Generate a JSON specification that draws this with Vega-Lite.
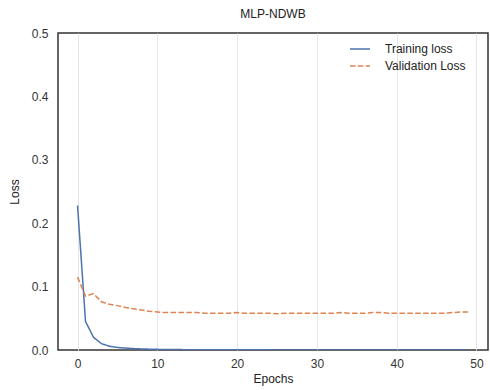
{
  "$schema": "https://vega.github.io/schema/vega-lite/v6.json",
  "autosize": {"type": "none"},
  "padding": {"left": 58, "top": 33, "right": 2, "bottom": 40},
  "width": 430,
  "height": 317,
  "title": {"text": "MLP-NDWB", "fontSize": 12, "fontWeight": "normal", "font": "Liberation Sans", "color": "#222", "offset": 6},
  "config": {
    "view": {"stroke": "#333", "strokeWidth": 1.5},
    "font": "Liberation Sans"
  },
  "data": {"values": [
    {"epoch": 0, "series": "Training loss", "loss": 0.228},
    {"epoch": 1, "series": "Training loss", "loss": 0.045},
    {"epoch": 2, "series": "Training loss", "loss": 0.02},
    {"epoch": 3, "series": "Training loss", "loss": 0.01},
    {"epoch": 4, "series": "Training loss", "loss": 0.006},
    {"epoch": 5, "series": "Training loss", "loss": 0.004},
    {"epoch": 6, "series": "Training loss", "loss": 0.003},
    {"epoch": 7, "series": "Training loss", "loss": 0.0022},
    {"epoch": 8, "series": "Training loss", "loss": 0.0017},
    {"epoch": 9, "series": "Training loss", "loss": 0.0013},
    {"epoch": 10, "series": "Training loss", "loss": 0.001},
    {"epoch": 11, "series": "Training loss", "loss": 0.0008},
    {"epoch": 12, "series": "Training loss", "loss": 0.0007},
    {"epoch": 13, "series": "Training loss", "loss": 0.0006},
    {"epoch": 14, "series": "Training loss", "loss": 0.0005},
    {"epoch": 15, "series": "Training loss", "loss": 0.0004},
    {"epoch": 16, "series": "Training loss", "loss": 0.0004},
    {"epoch": 17, "series": "Training loss", "loss": 0.0003},
    {"epoch": 18, "series": "Training loss", "loss": 0.0003},
    {"epoch": 19, "series": "Training loss", "loss": 0.0003},
    {"epoch": 20, "series": "Training loss", "loss": 0.0002},
    {"epoch": 21, "series": "Training loss", "loss": 0.0002},
    {"epoch": 22, "series": "Training loss", "loss": 0.0002},
    {"epoch": 23, "series": "Training loss", "loss": 0.0002},
    {"epoch": 24, "series": "Training loss", "loss": 0.0002},
    {"epoch": 25, "series": "Training loss", "loss": 0.0001},
    {"epoch": 26, "series": "Training loss", "loss": 0.0001},
    {"epoch": 27, "series": "Training loss", "loss": 0.0001},
    {"epoch": 28, "series": "Training loss", "loss": 0.0001},
    {"epoch": 29, "series": "Training loss", "loss": 0.0001},
    {"epoch": 30, "series": "Training loss", "loss": 0.0001},
    {"epoch": 31, "series": "Training loss", "loss": 0.0001},
    {"epoch": 32, "series": "Training loss", "loss": 0.0001},
    {"epoch": 33, "series": "Training loss", "loss": 0.0001},
    {"epoch": 34, "series": "Training loss", "loss": 0.0001},
    {"epoch": 35, "series": "Training loss", "loss": 0.0001},
    {"epoch": 36, "series": "Training loss", "loss": 0.0001},
    {"epoch": 37, "series": "Training loss", "loss": 0.0001},
    {"epoch": 38, "series": "Training loss", "loss": 0.0001},
    {"epoch": 39, "series": "Training loss", "loss": 0.0001},
    {"epoch": 40, "series": "Training loss", "loss": 0.0001},
    {"epoch": 41, "series": "Training loss", "loss": 0.0001},
    {"epoch": 42, "series": "Training loss", "loss": 0.0001},
    {"epoch": 43, "series": "Training loss", "loss": 0.0001},
    {"epoch": 44, "series": "Training loss", "loss": 0.0001},
    {"epoch": 45, "series": "Training loss", "loss": 0.0001},
    {"epoch": 46, "series": "Training loss", "loss": 0.0001},
    {"epoch": 47, "series": "Training loss", "loss": 0.0001},
    {"epoch": 48, "series": "Training loss", "loss": 0.0001},
    {"epoch": 49, "series": "Training loss", "loss": 0.0001},
    {"epoch": 0, "series": "Validation Loss", "loss": 0.115},
    {"epoch": 1, "series": "Validation Loss", "loss": 0.085},
    {"epoch": 2, "series": "Validation Loss", "loss": 0.089},
    {"epoch": 3, "series": "Validation Loss", "loss": 0.076},
    {"epoch": 4, "series": "Validation Loss", "loss": 0.072},
    {"epoch": 5, "series": "Validation Loss", "loss": 0.07},
    {"epoch": 6, "series": "Validation Loss", "loss": 0.067},
    {"epoch": 7, "series": "Validation Loss", "loss": 0.065},
    {"epoch": 8, "series": "Validation Loss", "loss": 0.063},
    {"epoch": 9, "series": "Validation Loss", "loss": 0.061},
    {"epoch": 10, "series": "Validation Loss", "loss": 0.06},
    {"epoch": 11, "series": "Validation Loss", "loss": 0.059},
    {"epoch": 12, "series": "Validation Loss", "loss": 0.059},
    {"epoch": 13, "series": "Validation Loss", "loss": 0.059},
    {"epoch": 14, "series": "Validation Loss", "loss": 0.059},
    {"epoch": 15, "series": "Validation Loss", "loss": 0.059},
    {"epoch": 16, "series": "Validation Loss", "loss": 0.058},
    {"epoch": 17, "series": "Validation Loss", "loss": 0.058},
    {"epoch": 18, "series": "Validation Loss", "loss": 0.058},
    {"epoch": 19, "series": "Validation Loss", "loss": 0.058},
    {"epoch": 20, "series": "Validation Loss", "loss": 0.059},
    {"epoch": 21, "series": "Validation Loss", "loss": 0.058},
    {"epoch": 22, "series": "Validation Loss", "loss": 0.058},
    {"epoch": 23, "series": "Validation Loss", "loss": 0.058},
    {"epoch": 24, "series": "Validation Loss", "loss": 0.058},
    {"epoch": 25, "series": "Validation Loss", "loss": 0.057},
    {"epoch": 26, "series": "Validation Loss", "loss": 0.058},
    {"epoch": 27, "series": "Validation Loss", "loss": 0.058},
    {"epoch": 28, "series": "Validation Loss", "loss": 0.058},
    {"epoch": 29, "series": "Validation Loss", "loss": 0.058},
    {"epoch": 30, "series": "Validation Loss", "loss": 0.058},
    {"epoch": 31, "series": "Validation Loss", "loss": 0.058},
    {"epoch": 32, "series": "Validation Loss", "loss": 0.058},
    {"epoch": 33, "series": "Validation Loss", "loss": 0.059},
    {"epoch": 34, "series": "Validation Loss", "loss": 0.058},
    {"epoch": 35, "series": "Validation Loss", "loss": 0.058},
    {"epoch": 36, "series": "Validation Loss", "loss": 0.058},
    {"epoch": 37, "series": "Validation Loss", "loss": 0.059},
    {"epoch": 38, "series": "Validation Loss", "loss": 0.059},
    {"epoch": 39, "series": "Validation Loss", "loss": 0.058},
    {"epoch": 40, "series": "Validation Loss", "loss": 0.058},
    {"epoch": 41, "series": "Validation Loss", "loss": 0.058},
    {"epoch": 42, "series": "Validation Loss", "loss": 0.058},
    {"epoch": 43, "series": "Validation Loss", "loss": 0.058},
    {"epoch": 44, "series": "Validation Loss", "loss": 0.058},
    {"epoch": 45, "series": "Validation Loss", "loss": 0.058},
    {"epoch": 46, "series": "Validation Loss", "loss": 0.058},
    {"epoch": 47, "series": "Validation Loss", "loss": 0.059},
    {"epoch": 48, "series": "Validation Loss", "loss": 0.06},
    {"epoch": 49, "series": "Validation Loss", "loss": 0.06}
  ]},
  "mark": {"type": "line", "strokeWidth": 1.5, "clip": true},
  "encoding": {
    "x": {
      "field": "epoch", "type": "quantitative",
      "scale": {"domain": [-2.45, 51.45], "nice": false, "zero": false},
      "axis": {"values": [0, 10, 20, 30, 40, 50], "title": "Epochs", "grid": true, "gridColor": "#e6e6e6", "gridWidth": 1,
               "domain": false, "ticks": false, "labelPadding": 8, "labelFontSize": 12, "labelColor": "#333",
               "titleFontSize": 12, "titleFontWeight": "normal", "titleColor": "#222", "titlePadding": 4}
    },
    "y": {
      "field": "loss", "type": "quantitative",
      "scale": {"domain": [0, 0.5], "nice": false},
      "axis": {"values": [0, 0.1, 0.2, 0.3, 0.4, 0.5], "format": ".1f", "title": "Loss", "grid": false,
               "domain": false, "ticks": false, "labelPadding": 10, "labelFontSize": 12, "labelColor": "#333",
               "titleFontSize": 12, "titleFontWeight": "normal", "titleColor": "#222", "titlePadding": 10}
    },
    "color": {
      "field": "series", "type": "nominal",
      "scale": {"domain": ["Training loss", "Validation Loss"], "range": ["#4c72b0", "#dd8452"]},
      "legend": {"title": null, "orient": "none", "legendX": 291, "legendY": 5, "symbolType": "stroke",
                 "symbolSize": 400, "symbolStrokeWidth": 1.5, "labelFontSize": 12, "labelColor": "#222",
                 "rowPadding": 0, "labelOffset": 14}
    },
    "strokeDash": {
      "field": "series", "type": "nominal",
      "scale": {"domain": ["Training loss", "Validation Loss"], "range": [[1, 0], [5.5, 2.4]]},
      "legend": null
    }
  }
}
